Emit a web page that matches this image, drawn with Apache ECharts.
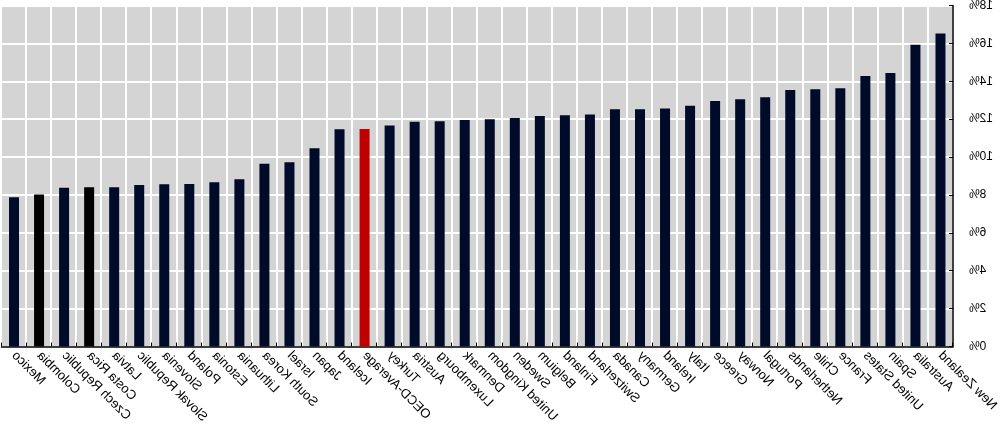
<!DOCTYPE html>
<html>
<head>
<meta charset="utf-8">
<script src="https://cdn.jsdelivr.net/npm/echarts@6/dist/echarts.min.js"></script>
<style>
  html, body { margin: 0; padding: 0; background: #ffffff; }
  #chart { width: 1000px; height: 424px; transform: scaleX(-1); transform-origin: 50% 50%; }
</style>
</head>
<body>
<div id="chart"></div>
<script>
// Categories in the order they appear (left to right in the picture)
const categories = [
  'Mexico', 'Colombia', 'Czech Republic', 'Costa Rica', 'Latvia', 'Slovak Republic',
  'Slovenia', 'Poland', 'Estonia', 'Lithuania', 'South Korea', 'Israel', 'Japan',
  'Iceland', 'OECD-Average', 'Turkey', 'Austria', 'Luxembourg', 'Denmark',
  'United Kingdom', 'Sweden', 'Belgium', 'Finland', 'Switzerland', 'Canada',
  'Germany', 'Ireland', 'Italy', 'Greece', 'Norway', 'Portugal', 'Netherlands',
  'Chile', 'France', 'United States', 'Spain', 'Australia', 'New Zealand'
];
// Values in percent
const values = [
  7.88, 8.03, 8.38, 8.40, 8.40, 8.53,
  8.56, 8.58, 8.67, 8.83, 9.65, 9.73, 10.46,
  11.47, 11.48, 11.66, 11.87, 11.89, 11.96,
  12.00, 12.06, 12.17, 12.21, 12.24, 12.52,
  12.52, 12.56, 12.71, 12.96, 13.05, 13.16, 13.54,
  13.58, 13.63, 14.28, 14.44, 15.93, 16.52
];
const yTicks = { min: 0, max: 18, interval: 2 };
const blackCategories = ['Colombia', 'Costa Rica'];
const highlightCategory = 'OECD-Average';

const COLOR_MAIN = '#000a29';
const COLOR_BLACK = '#000000';
const COLOR_HIGHLIGHT = '#c00000';

const seriesData = categories.map((c, i) => ({
  value: values[i],
  itemStyle: {
    color: c === highlightCategory ? COLOR_HIGHLIGHT
         : (blackCategories.includes(c) ? COLOR_BLACK : COLOR_MAIN)
  }
}));

const chart = echarts.init(document.getElementById('chart'), null, { renderer: 'canvas' });
chart.setOption({
  animation: false,
  grid: {
    left: 47, right: 1.5, top: 5.5, bottom: 77.5,
    outerBoundsMode: 'none',
    show: true, backgroundColor: '#d4d4d4', borderWidth: 0
  },
  xAxis: {
    type: 'category',
    data: categories,
    inverse: true,
    axisLine: { show: true, lineStyle: { color: '#000000', width: 1.5 } },
    axisTick: { show: true, inside: true, length: 4, lineStyle: { color: '#000000', width: 1 } },
    splitLine: { show: true, lineStyle: { color: '#ffffff', width: 2 } },
    axisLabel: {
      rotate: 45, interval: 0, margin: 7,
      fontFamily: 'Arial, "Liberation Sans", sans-serif', fontSize: 13, color: '#000000'
    }
  },
  yAxis: {
    type: 'value',
    position: 'left',
    min: yTicks.min, max: yTicks.max, interval: yTicks.interval,
    axisLine: { show: true, lineStyle: { color: '#000000', width: 1.5 } },
    axisTick: { show: true, inside: true, length: 4, lineStyle: { color: '#000000', width: 1 } },
    splitLine: { show: true, lineStyle: { color: '#ffffff', width: 2 } },
    axisLabel: {
      formatter: '{value}%', margin: 16,
      fontFamily: 'Arial, "Liberation Sans", sans-serif', fontSize: 12, color: '#000000'
    }
  },
  series: [{
    type: 'bar',
    data: seriesData,
    barWidth: 10
  }]
});
</script>
</body>
</html>
